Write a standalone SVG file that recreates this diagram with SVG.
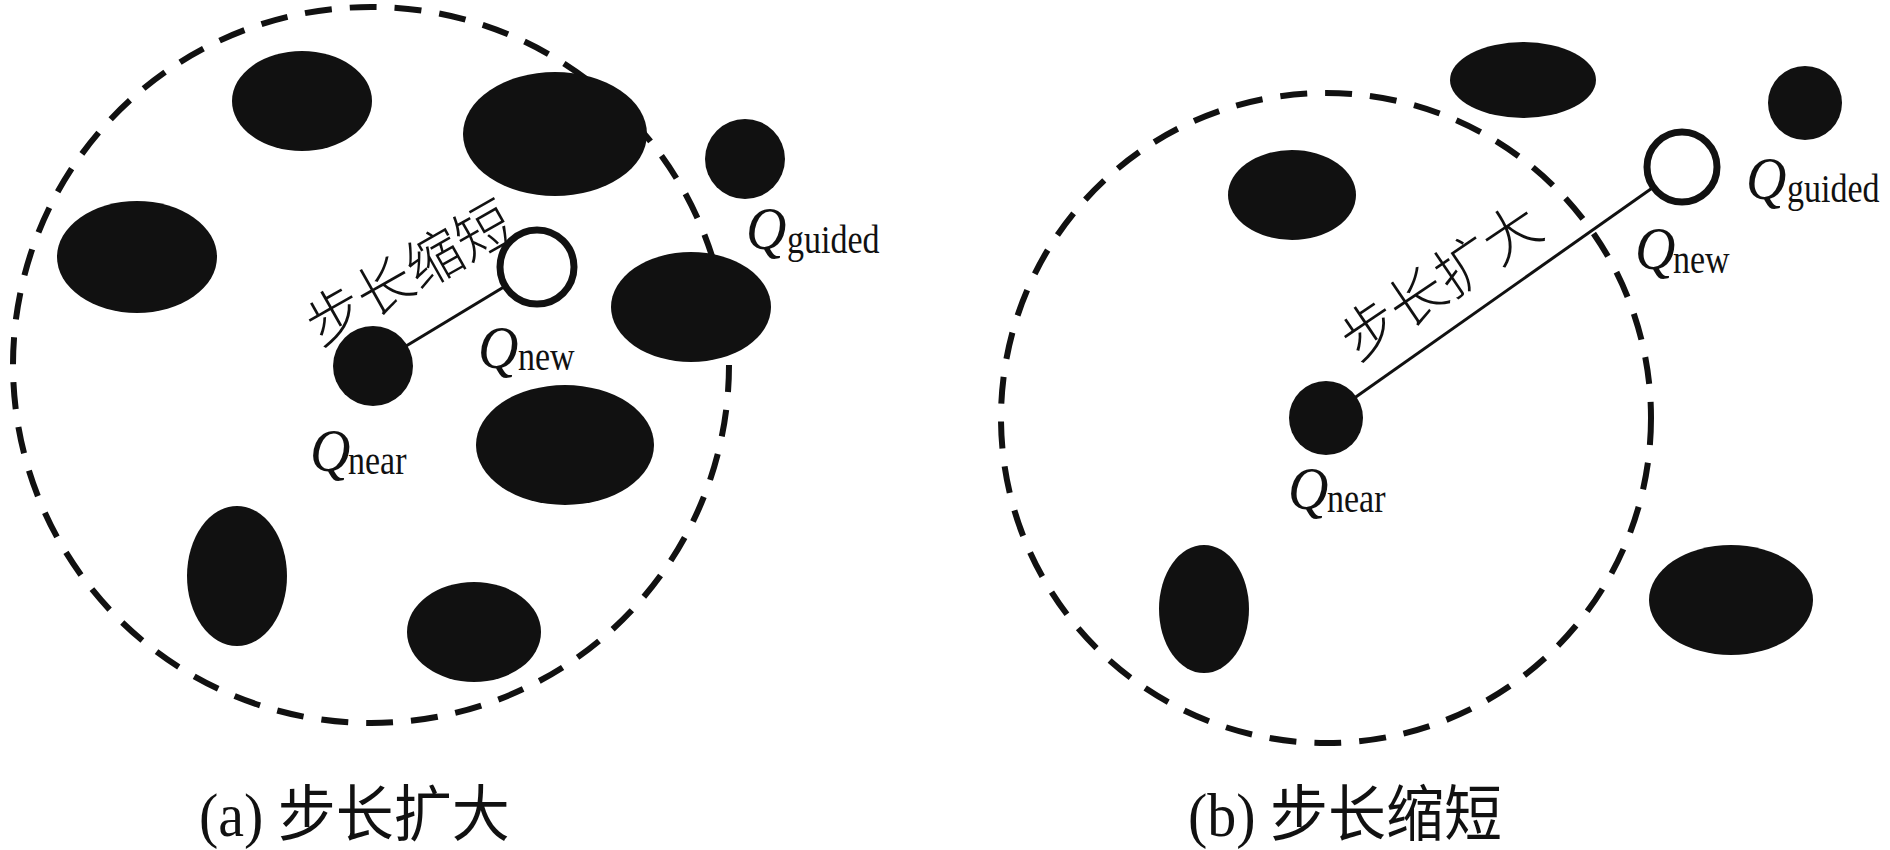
<svg xmlns="http://www.w3.org/2000/svg" width="1890" height="850" viewBox="0 0 1890 850">
<style>
.bg{fill:#ffffff}
.range{fill:none;stroke:#111;stroke-width:6;stroke-dasharray:27 18}
.obs{fill:#111}
.near{fill:#111}
.new{fill:#fff;stroke:#111;stroke-width:7}
.link{stroke:#111;stroke-width:3;fill:none}
.q{font-family:"Liberation Serif",serif;font-style:italic;font-size:56px;fill:#111}
.sub{font-family:"Liberation Serif",serif;font-size:34px;fill:#111}
.cjk{font-family:"Liberation Serif","Noto Sans CJK SC",sans-serif;font-size:58px;fill:#111}
.rot{font-family:"Noto Sans CJK SC",sans-serif;font-size:57px;fill:#111;font-weight:300}
</style>
<rect class="bg" x="0" y="0" width="1890" height="850"/>

<!-- Panel (a) -->
<g id="panel-a">
  <circle id="a-range" class="range" cx="371" cy="365" r="358"/>
  <g id="a-obstacles">
    <ellipse class="obs" cx="302" cy="101" rx="70" ry="50"/>
    <ellipse class="obs" cx="555" cy="134" rx="92" ry="62"/>
    <ellipse class="obs" cx="745" cy="159" rx="40" ry="40"/>
    <ellipse class="obs" cx="137" cy="257" rx="80" ry="56"/>
    <ellipse class="obs" cx="691" cy="307" rx="80" ry="55"/>
    <ellipse class="obs" cx="565" cy="445" rx="89" ry="60"/>
    <ellipse class="obs" cx="237" cy="576" rx="50" ry="70"/>
    <ellipse class="obs" cx="474" cy="632" rx="67" ry="50"/>
  </g>
  <g id="a-connectors">
    <line class="link" x1="373" y1="366" x2="537" y2="267"/>
  </g>
  <g id="a-qnear"><circle class="near" cx="373" cy="366" r="40"/></g>
  <g id="a-qnew"><circle class="new" cx="537" cy="267" r="37"/></g>
  <g id="a-label-guided"><text class="q" transform="translate(746 249) scale(1 1.1)">Q</text><text class="sub" transform="translate(787 253) scale(1 1.15)">guided</text></g>
  <g id="a-label-new"><text class="q" transform="translate(478 368) scale(1 1.1)">Q</text><text class="sub" transform="translate(518 370) scale(1 1.15)">new</text></g>
  <g id="a-label-near"><text class="q" transform="translate(310 471) scale(1 1.1)">Q</text><text class="sub" transform="translate(348 474) scale(1 1.15)">near</text></g>
  <g id="a-step"><text class="rot" x="407" y="269" text-anchor="middle" dominant-baseline="central" transform="rotate(-29.5 407 269)">步长缩短</text></g>
  <text id="a-caption" class="cjk" transform="translate(199 836) scale(1 1.06)">(a) 步长扩大</text>
</g>

<!-- Panel (b) -->
<g id="panel-b">
  <circle id="b-range" class="range" cx="1326" cy="418" r="325"/>
  <g id="b-obstacles">
    <ellipse class="obs" cx="1523" cy="80" rx="73" ry="38"/>
    <ellipse class="obs" cx="1805" cy="103" rx="37" ry="37"/>
    <ellipse class="obs" cx="1292" cy="195" rx="64" ry="45"/>
    <ellipse class="obs" cx="1204" cy="609" rx="45" ry="64"/>
    <ellipse class="obs" cx="1731" cy="600" rx="82" ry="55"/>
  </g>
  <g id="b-connectors">
    <line class="link" x1="1326" y1="418" x2="1682" y2="167"/>
  </g>
  <g id="b-qnear"><circle class="near" cx="1326" cy="418" r="37"/></g>
  <g id="b-qnew"><circle class="new" cx="1682" cy="167" r="35"/></g>
  <g id="b-label-guided"><text class="q" transform="translate(1746 199) scale(1 1.1)">Q</text><text class="sub" transform="translate(1787 202) scale(1 1.15)">guided</text></g>
  <g id="b-label-new"><text class="q" transform="translate(1635 269) scale(1 1.1)">Q</text><text class="sub" transform="translate(1673 273) scale(1 1.15)">new</text></g>
  <g id="b-label-near"><text class="q" transform="translate(1288 509) scale(1 1.1)">Q</text><text class="sub" transform="translate(1327 512) scale(1 1.15)">near</text></g>
  <g id="b-step"><text class="rot" x="1438" y="278" text-anchor="middle" dominant-baseline="central" transform="rotate(-34 1438 278)">步长扩大</text></g>
  <text id="b-caption" class="cjk" transform="translate(1188 836) scale(1 1.06)">(b) 步长缩短</text>
</g>
</svg>
